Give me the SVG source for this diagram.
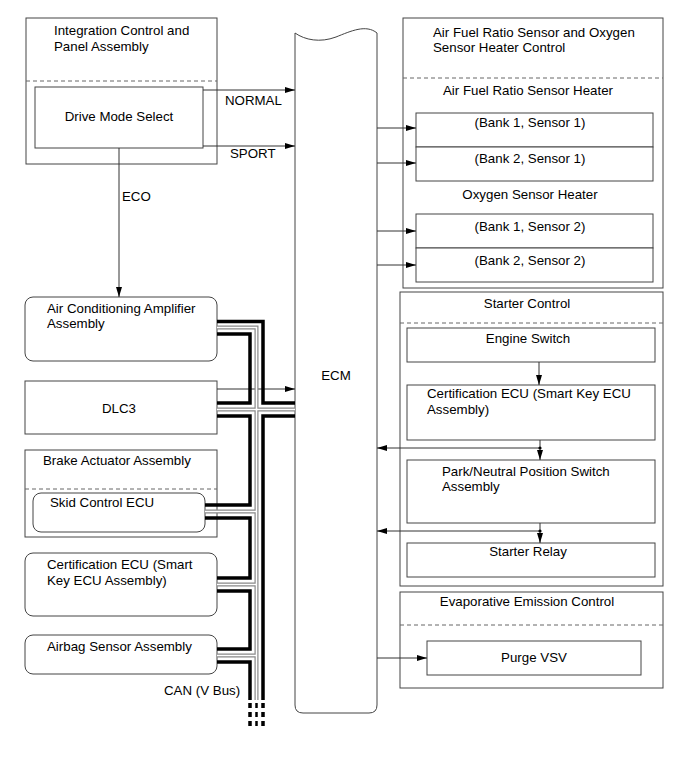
<svg xmlns="http://www.w3.org/2000/svg" width="690" height="757" viewBox="0 0 690 757">
<style>
text{font-family:"Liberation Sans",Arial,sans-serif;font-size:13.3px;fill:#000}
.c{text-anchor:middle}
.box{fill:#fff;stroke:#444;stroke-width:1}
.dash{stroke:#666;stroke-width:1;stroke-dasharray:4,3;fill:none}
.ln{stroke:#333;stroke-width:1;fill:none}
.bk{stroke:#000;stroke-width:3.5;fill:none;stroke-linejoin:miter}
.gy{stroke:#888;stroke-width:4;fill:none}
.wh{stroke:#fff;stroke-width:1.6;fill:none}
</style>
<defs>
<marker id="ah" viewBox="0 0 10 6" refX="10" refY="3" markerWidth="10" markerHeight="6" markerUnits="userSpaceOnUse" orient="auto">
<path d="M0,0 L10,3 L0,6 z" fill="#000"/>
</marker>
</defs>
<rect width="690" height="757" fill="#fff"/>

<g id="integration">
<rect class="box" x="26" y="18" width="191" height="146"/>
<line class="dash" x1="26" y1="81" x2="217" y2="81"/>
<text x="54" y="35">Integration Control and</text>
<text x="54" y="51">Panel Assembly</text>
</g>
<g id="drive-mode">
<rect class="box" x="35" y="87" width="168" height="61"/>
<text class="c" x="119" y="121">Drive Mode Select</text>
</g>

<g id="ecm">
<path class="box" d="M295,33 C305,40 320,43 336,37 C351,31 366,24 377,33 L377,705 Q377,713 369,713 L303,713 Q295,713 295,705 Z"/>
<text class="c" x="336" y="380">ECM</text>
</g>

<g id="ac-amp">
<rect class="box" x="25" y="297" width="192" height="64" rx="8"/>
<text x="47" y="313">Air Conditioning Amplifier</text>
<text x="47" y="328">Assembly</text>
</g>
<g id="dlc3">
<rect class="box" x="25" y="381" width="192" height="53"/>
<text class="c" x="119" y="413">DLC3</text>
</g>
<g id="brake-actuator">
<rect class="box" x="25" y="450" width="192" height="87"/>
<line class="dash" x1="25" y1="489" x2="217" y2="489"/>
<text x="43" y="465">Brake Actuator Assembly</text>
</g>
<g id="skid-ecu">
<rect class="box" x="33" y="493" width="172" height="39" rx="8"/>
<text x="50" y="507">Skid Control ECU</text>
</g>
<g id="cert-ecu-left">
<rect class="box" x="25" y="553" width="192" height="63" rx="8"/>
<text x="47" y="569">Certification ECU (Smart</text>
<text x="47" y="585">Key ECU Assembly)</text>
</g>
<g id="airbag">
<rect class="box" x="25" y="635" width="192" height="39" rx="8"/>
<text x="47" y="651">Airbag Sensor Assembly</text>
</g>
<text x="164" y="695">CAN (V Bus)</text>

<g id="afr-control">
<rect class="box" x="403" y="18" width="260" height="270"/>
<line class="dash" x1="403" y1="78" x2="663" y2="78"/>
<text x="433" y="37">Air Fuel Ratio Sensor and Oxygen</text>
<text x="433" y="52">Sensor Heater Control</text>
<text class="c" x="528" y="95">Air Fuel Ratio Sensor Heater</text>
<text class="c" x="530" y="199">Oxygen Sensor Heater</text>
</g>
<g id="afr-b1s1">
<rect class="box" x="416" y="113" width="237" height="34"/>
<text class="c" x="530" y="127">(Bank 1, Sensor 1)</text>
</g>
<g id="afr-b2s1">
<rect class="box" x="416" y="147" width="237" height="34"/>
<text class="c" x="530" y="163">(Bank 2, Sensor 1)</text>
</g>
<g id="o2-b1s2">
<rect class="box" x="416" y="214" width="237" height="34"/>
<text class="c" x="530" y="231">(Bank 1, Sensor 2)</text>
</g>
<g id="o2-b2s2">
<rect class="box" x="416" y="248" width="237" height="34"/>
<text class="c" x="530" y="265">(Bank 2, Sensor 2)</text>
</g>

<g id="starter-control">
<rect class="box" x="400" y="292" width="263" height="294"/>
<line class="dash" x1="400" y1="323" x2="663" y2="323"/>
<text class="c" x="527" y="308">Starter Control</text>
</g>
<g id="engine-switch">
<rect class="box" x="407" y="328" width="248" height="34"/>
<text class="c" x="528" y="343">Engine Switch</text>
</g>
<g id="cert-ecu-right">
<rect class="box" x="407" y="385" width="248" height="55"/>
<text x="427" y="398">Certification ECU (Smart Key ECU</text>
<text x="427" y="414">Assembly)</text>
</g>
<g id="pn-switch">
<rect class="box" x="407" y="460" width="248" height="63"/>
<text x="442" y="476">Park/Neutral Position Switch</text>
<text x="442" y="491">Assembly</text>
</g>
<g id="starter-relay">
<rect class="box" x="407" y="543" width="248" height="34"/>
<text class="c" x="528" y="556">Starter Relay</text>
</g>

<g id="evap-control">
<rect class="box" x="400" y="592" width="263" height="96"/>
<line class="dash" x1="400" y1="625" x2="663" y2="625"/>
<text class="c" x="527" y="606">Evaporative Emission Control</text>
</g>
<g id="purge-vsv">
<rect class="box" x="427" y="641" width="214" height="34"/>
<text class="c" x="534" y="662">Purge VSV</text>
</g>

<g id="connectors">
<line class="ln" x1="203" y1="90" x2="295" y2="90" marker-end="url(#ah)"/>
<text x="225" y="105">NORMAL</text>
<line class="ln" x1="203" y1="146" x2="295" y2="146" marker-end="url(#ah)"/>
<text x="230" y="158">SPORT</text>
<line class="ln" x1="119" y1="148" x2="119" y2="297" marker-end="url(#ah)"/>
<text x="122" y="201">ECO</text>
<line class="ln" x1="217" y1="389" x2="295" y2="389" marker-end="url(#ah)"/>

<line class="ln" x1="377" y1="128" x2="416" y2="128" marker-end="url(#ah)"/>
<line class="ln" x1="377" y1="163" x2="416" y2="163" marker-end="url(#ah)"/>
<line class="ln" x1="377" y1="231" x2="416" y2="231" marker-end="url(#ah)"/>
<line class="ln" x1="377" y1="265" x2="416" y2="265" marker-end="url(#ah)"/>

<line class="ln" x1="539" y1="362" x2="539" y2="385" marker-end="url(#ah)"/>
<line class="ln" x1="540" y1="440" x2="540" y2="460" marker-end="url(#ah)"/>
<line class="ln" x1="540" y1="448" x2="377" y2="448" marker-end="url(#ah)"/>
<circle cx="540" cy="448" r="1.6" fill="#000"/>
<line class="ln" x1="540" y1="523" x2="540" y2="543" marker-end="url(#ah)"/>
<line class="ln" x1="540" y1="531" x2="377" y2="531" marker-end="url(#ah)"/>
<circle cx="540" cy="531" r="1.6" fill="#000"/>

<line class="ln" x1="377" y1="658" x2="427" y2="658" marker-end="url(#ah)"/>

<g id="can-bus">
<path class="gy" d="M217,327.5 H256.5 V700 M217,409.5 H295 M205,511.5 H256.5 M217,584.5 H256.5 M217,655.5 H256.5"/>
<path class="wh" d="M217,327.5 H256.5 V700 M217,409.5 H295 M205,511.5 H256.5 M217,584.5 H256.5 M217,655.5 H256.5"/>
<path class="bk" d="M217,321.5 H263 V403 H295"/>
<path class="bk" d="M217,334 H250 V403 H217"/>
<path class="bk" d="M295,416 H263 V700"/>
<path class="bk" d="M217,416 H250 V505 H205"/>
<path class="bk" d="M205,518 H250 V578 H217"/>
<path class="bk" d="M217,591 H250 V649 H217"/>
<path class="bk" d="M217,662 H250 V700"/>
<path d="M250,703 V730 M263,703 V730" stroke="#000" stroke-width="3.5" stroke-dasharray="5,4" fill="none"/>
<path d="M256.5,703 V730" stroke="#000" stroke-width="2.5" stroke-dasharray="5,4" fill="none"/>
</g>
</g>
</svg>
